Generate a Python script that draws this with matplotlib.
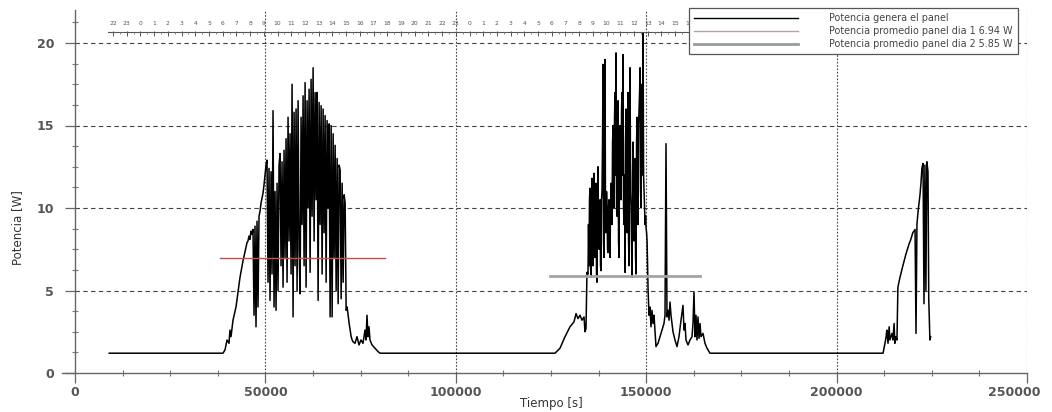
import numpy as np
import matplotlib
matplotlib.use("Agg")
from matplotlib import pyplot as plt
from matplotlib.lines import Line2D
from matplotlib.ticker import MultipleLocator

# ---------------- datos ----------------
# dia 1: noche y subida de la mañana
t_d1_subida = [9000, 38870, 39390, 39920, 40440, 40700, 40970, 41490, 42280,
               43330, 44120, 44900, 45170]
p_d1_subida = [1.2, 1.2, 1.4, 2.0, 1.8, 2.6, 2.2, 3.2, 4.0, 5.8, 6.8, 7.6, 7.9]

# dia 1: zona nublada, una muestra cada dt_osc segundos desde t0_d1_osc
dt_osc = 263
t0_d1_osc = 45430
p_d1_osc = [8.0, 8.3, 8.1, 8.6, 8.4, 8.7, 3.5, 8.9, 2.8, 9.2,
            4.0, 9.5, 9.8, 10.3, 10.6, 10.9, 11.4, 12.0, 12.6, 12.9,
            5.5, 12.4, 4.4, 12.2, 6.0, 15.9, 4.0, 11.0, 3.8, 11.5,
            5.0, 12.6, 13.3, 6.5, 12.8, 5.2, 13.5, 7.0, 14.2, 5.5,
            15.5, 8.0, 14.5, 6.0, 17.5, 3.4, 15.8, 6.5, 16.0, 5.0,
            16.5, 7.5, 4.8, 15.5, 9.0, 16.8, 6.5, 17.6, 5.2, 16.5,
            10.0, 17.2, 6.1, 17.8, 9.5, 18.5, 8.0, 17.0, 10.5, 17.0,
            4.4, 16.4, 9.0, 16.2, 6.0, 16.0, 8.5, 15.6, 5.5, 15.3,
            10.0, 15.1, 3.4, 15.0, 3.4, 14.5, 7.0, 13.8, 5.0, 13.0,
            4.2, 12.6, 12.3, 4.5, 11.5, 5.5, 10.8, 10.3, 3.8, 4.0,
            3.5, 3.0, 2.6, 2.2, 2.0]

# dia 1: tarde
t_d1_tarde = [73000, 73530, 74055, 74580, 75100, 75630, 76155, 76420, 76680,
              76940, 77200, 77470, 78000, 78780, 79570, 80100]
p_d1_tarde = [1.9, 1.8, 2.2, 1.7, 2.0, 1.8, 2.6, 2.0, 3.5, 2.2, 2.8, 2.0,
              1.7, 1.5, 1.3, 1.2]

# dia 2: noche y subida
t_d2_subida = [126050, 127360, 128680, 129990, 131040, 131570, 132090, 132620,
               133140, 133670, 133930, 134190, 134450]
p_d2_subida = [1.2, 1.5, 2.2, 2.8, 3.1, 3.6, 3.3, 3.5, 3.2, 3.4, 2.5, 2.7, 6.1]

# dia 2: zona nublada (muestras cada dt_osc2 segundos)
dt_osc2 = 131.5
t0_d2_osc = 134715
p_d2_osc = [6.0, 9.0, 6.5, 10.5, 11.2, 6.5, 5.8, 10.0, 11.8, 7.0,
            6.5, 11.0, 12.1, 7.5, 7.0, 10.0, 11.5, 6.0, 5.5, 11.0,
            12.5, 8.0, 7.5, 10.0, 10.5, 6.5, 6.2, 10.5, 11.0, 14.0,
            18.7, 8.0, 7.0, 16.0, 19.0, 9.0, 8.5, 11.0, 10.0, 7.5,
            7.3, 10.0, 10.5, 7.5, 7.0, 10.0, 11.5, 9.5, 9.0, 14.0,
            15.0, 10.5, 10.0, 15.5, 17.0, 12.0, 19.4, 10.0, 9.5, 15.0,
            16.5, 8.0, 7.0, 13.5, 15.0, 11.0, 10.5, 16.0, 17.0, 12.0,
            19.3, 10.0, 9.0, 12.0, 6.1, 14.0, 16.0, 9.0, 8.5, 15.0,
            17.0, 8.0, 6.5, 16.0, 18.5, 11.0, 10.0, 8.0, 5.8, 12.0,
            14.0, 9.0, 8.0, 12.0, 13.0, 7.0, 6.0, 14.0, 15.5, 10.0,
            9.0, 15.0, 16.0, 17.0, 18.5, 11.0, 10.0, 16.0, 17.5, 12.0,
            20.6, 12.0, 11.0, 10.0, 9.0, 9.5, 8.8, 8.5, 8.0, 6.5,
            5.0]

# dia 2: tarde
t_d2_tarde = [150740, 151000, 151260, 151520, 151790, 152050, 152310, 152570,
              153100, 153620, 154150, 154670, 154940, 155200, 155460, 155720,
              155990, 156250, 156510, 157040, 157560, 158090, 158610, 159140,
              159660, 159930, 160190, 160450, 160980, 161500, 162030, 162290,
              162550, 162820, 163080, 163340, 163600, 163870, 164130, 164390,
              164920, 165440, 165970, 166750]
p_d2_tarde = [3.5, 4.0, 2.8, 3.8, 3.0, 3.5, 2.5, 1.6,
              1.8, 2.2, 2.6, 3.0, 3.5, 13.9, 3.4, 3.8,
              3.2, 4.3, 3.5, 2.5, 2.0, 1.6, 2.2, 3.2,
              4.1, 2.6, 3.0, 2.0, 1.7, 2.0, 2.2, 3.0,
              4.9, 2.2, 3.5, 2.0, 3.4, 2.1, 3.0, 2.2,
              2.4, 1.8, 1.5, 1.2]

# dia 3: mañana
t_d3 = [212200, 212700, 213000, 213200, 213500, 213800, 214000, 214550,
        214800, 215100, 215300, 215600, 215850, 216100, 216650, 217400,
        218200, 219000, 219500, 220000, 220600, 220850, 221100, 221400,
        221900, 222150, 222400, 222700, 222950, 223200, 223450, 223700,
        224000, 224200, 224500, 224700]
p_d3 = [1.2, 1.8, 2.2, 2.6, 1.8, 2.8, 2.0, 2.4,
        2.0, 3.0, 1.8, 2.2, 2.0, 5.2, 5.8, 6.5,
        7.2, 7.8, 8.1, 8.5, 8.7, 2.4, 9.0, 9.8,
        10.8, 11.5, 12.4, 12.7, 4.2, 12.6, 5.0, 12.8,
        12.2, 4.5, 2.0, 2.2]

prom_dia1 = 6.94
prom_dia2 = 5.85
t_prom_dia1 = [38080, 81400]
t_prom_dia2 = [124740, 164130]

etiquetas = ["Potencia genera el panel",
             "Potencia promedio panel dia 1 6.94 W",
             "Potencia promedio panel dia 2 5.85 W"]

horas = [22, 23] + list(range(24)) + list(range(24))
t_medianoche = 17200

# ---------------- armado de la serie ----------------
t_d1_osc = t0_d1_osc + dt_osc * np.arange(len(p_d1_osc))
t_d2_osc = t0_d2_osc + dt_osc2 * np.arange(len(p_d2_osc))
t = np.concatenate([t_d1_subida, t_d1_osc, t_d1_tarde,
                    t_d2_subida, t_d2_osc, t_d2_tarde, t_d3])
p = np.concatenate([p_d1_subida, p_d1_osc, p_d1_tarde,
                    p_d2_subida, p_d2_osc, p_d2_tarde, p_d3])

# ---------------- figura ----------------
fig = plt.figure(figsize=(10.52, 4.12), dpi=100)
ax = fig.add_axes([75/1052, 39/412, 952/1052, 363/412])

ax.plot(t, p, color="black", lw=1.1, zorder=2)
ax.plot(t_prom_dia1, [prom_dia1]*2, color="#b25a5a", lw=1.0, zorder=3)
ax.plot(t_prom_dia2, [prom_dia2]*2, color="#a3a3a3", lw=2.0, zorder=3)

ax.set_xlim(0, 250000)
ax.set_ylim(0, 22)

# rejilla
for yg in [5, 10, 15, 20]:
    ax.axhline(yg, color="#444444", lw=0.8, ls=(0, (4, 3)), zorder=1)
for xg in [50000, 100000, 150000, 200000, 250000]:
    ax.axvline(xg, color="#444444", lw=0.8, ls=(0, (1.5, 1.5)), zorder=1)

for s in ["top", "right"]:
    ax.spines[s].set_visible(False)
for s in ["left", "bottom"]:
    ax.spines[s].set_color("#666666")
    ax.spines[s].set_linewidth(1.0)
ax.spines["bottom"].set_bounds(-3400, 250000)

xt = [0, 50000, 100000, 150000, 200000, 250000]
ax.set_xticks(xt)
ax.set_xticklabels([str(v) for v in xt[:-1]] + [""])
ax.set_yticks([0, 5, 10, 15, 20])
ax.set_yticklabels(["0", "5", "10", "15", "20"])
ax.xaxis.set_minor_locator(MultipleLocator(12500))
ax.yaxis.set_minor_locator(MultipleLocator(1.25))
ax.tick_params(which="major", direction="out", length=7, width=0.9,
               color="#666666", labelcolor="#555555", labelsize=9)
ax.tick_params(axis="x", which="major", pad=2)
ax.tick_params(axis="y", which="major", pad=8)
ax.tick_params(which="minor", direction="inout", length=5, width=0.8,
               color="#777777")
for lab in ax.get_xticklabels() + ax.get_yticklabels():
    lab.set_fontweight("bold")
# la ultima etiqueta del eje x va algo corrida a la izquierda
ax.annotate(str(xt[-1]), xy=(xt[-1], 0), xycoords="data",
            xytext=(-9, -14), textcoords="offset points",
            ha="center", va="center", fontsize=9, fontweight="bold",
            color="#555555", annotation_clip=False)

ax.set_xlabel("Tiempo [s]", fontsize=8.5, color="#333333", labelpad=-1)
ax.set_ylabel("Potencia [W]", fontsize=8.5, color="#333333")
ax.yaxis.set_label_coords(-0.054, 0.40)

# eje de horas en la parte superior
t_horas = [t_medianoche + (i - 2) * 3600 for i in range(len(horas))]
y_h = 20.67
ax.plot([t_horas[0] - 1300, t_horas[-1]], [y_h, y_h], color="#555555",
        lw=0.8, zorder=3)
ax.vlines(t_horas, y_h - 0.22, y_h + 0.08, color="#555555", lw=0.7, zorder=3)
ax.vlines([th + 1800 for th in t_horas[:-1]], y_h - 0.12, y_h,
          color="#777777", lw=0.6, zorder=3)
for th, h in zip(t_horas, horas):
    ax.text(th, y_h + 0.5, str(h), fontsize=4.3, ha="center", va="center",
            color="#555555", zorder=3)

# leyenda
handles = [Line2D([], [], color="black", lw=1.0),
           Line2D([], [], color="#c99a9a", lw=1.0),
           Line2D([], [], color="#9a9a9a", lw=2.0)]
leg = ax.legend(handles, etiquetas, loc="upper right",
                bbox_to_anchor=(1018/1052, 1 - 8/412),
                bbox_transform=fig.transFigure, fontsize=6.9,
                frameon=True, fancybox=False, framealpha=1,
                edgecolor="#555555", handlelength=10.8, handletextpad=3.3,
                labelspacing=0.3, borderaxespad=0, borderpad=0.55)
leg.get_frame().set_linewidth(0.9)
leg.set_zorder(10)
for tx in leg.get_texts():
    tx.set_color("#444444")

fig.savefig("out.png", dpi=100)
